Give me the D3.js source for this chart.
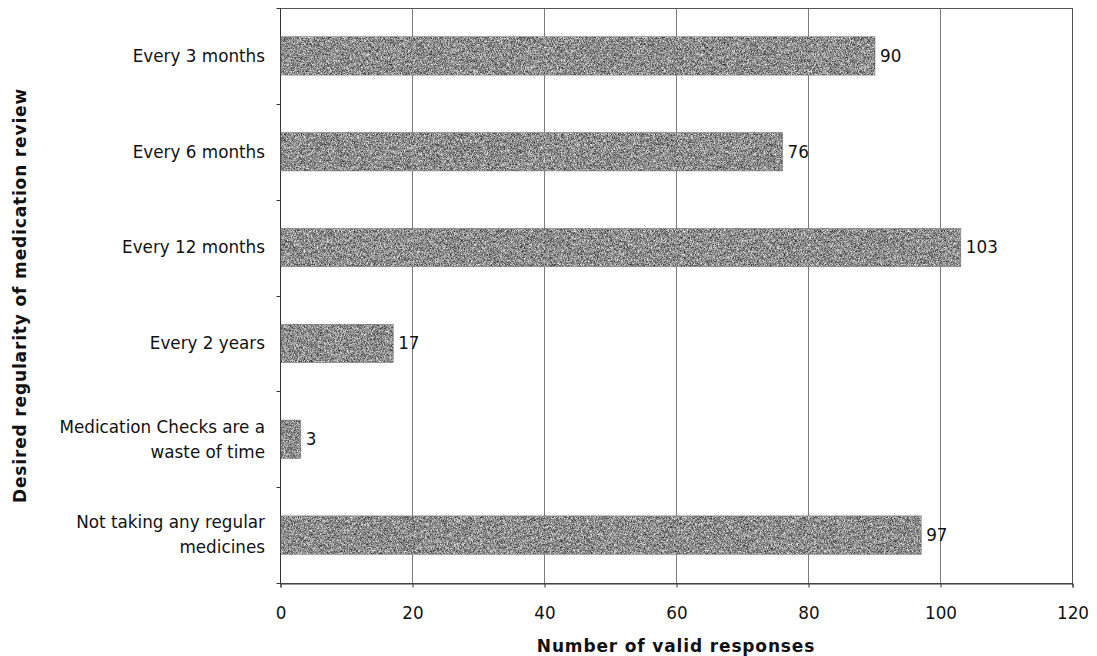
<!DOCTYPE html>
<html>
<head>
<meta charset="utf-8">
<script src="https://cdn.jsdelivr.net/npm/d3@7"></script>
<style>
  html, body { margin: 0; padding: 0; background: #fff; }
  svg { display: block; }
  text { font-family: "DejaVu Sans", Verdana, sans-serif; fill: #111; }
</style>
</head>
<body>
<svg id="chart" width="1097" height="656"></svg>
<script>
// Survey responses: desired regularity of medication review
const categories = [
  ["Every 3 months"],
  ["Every 6 months"],
  ["Every 12 months"],
  ["Every 2 years"],
  ["Medication Checks are a", "waste of time"],
  ["Not taking any regular", "medicines"]
];
const responses = [90, 76, 103, 17, 3, 97];
const xTicks = [0, 20, 40, 60, 80, 100, 120];
const xTitle = "Number of valid responses";
const yTitle = "Desired regularity of medication review";

const svg = d3.select("#chart");
const plot = { left: 280, top: 8, right: 1072, bottom: 583 };
const labelSize = "16.8px";

// Grainy grey fill for the bars
const defs = svg.append("defs");
const f = defs.append("filter").attr("id", "grain")
  .attr("x", 0).attr("y", 0).attr("width", 1).attr("height", 1)
  .attr("filterUnits", "objectBoundingBox")
  .attr("color-interpolation-filters", "sRGB");
f.append("feTurbulence").attr("type", "fractalNoise")
  .attr("baseFrequency", 2.3).attr("numOctaves", 1).attr("seed", 11).attr("result", "noise");
f.append("feColorMatrix").attr("in", "noise").attr("type", "matrix")
  .attr("values", "1.35 0 0 0 -0.12  1.35 0 0 0 -0.12  1.35 0 0 0 -0.12  0 0 0 0 1")
  .attr("result", "grey");
f.append("feComposite").attr("in", "grey").attr("in2", "SourceGraphic").attr("operator", "in");

const keys = d3.range(categories.length);
const x = d3.scaleLinear().domain([0, 120]).range([plot.left, plot.right]);
const y = d3.scaleBand().domain(keys).range([plot.top, plot.bottom])
  .paddingInner(0.6).paddingOuter(0.3);
const yb = d3.scaleBand().domain(keys).range([plot.top, plot.bottom]);

// Vertical gridlines
svg.append("g").selectAll("line").data(xTicks.slice(1, -1)).join("line")
  .attr("x1", d => x(d) + 0.5).attr("x2", d => x(d) + 0.5)
  .attr("y1", plot.top).attr("y2", plot.bottom)
  .attr("stroke", "#7a7a7a").attr("stroke-width", 1);

// Plot frame
svg.append("rect")
  .attr("x", plot.left + 0.5).attr("y", plot.top + 0.5)
  .attr("width", plot.right - plot.left).attr("height", plot.bottom - plot.top)
  .attr("fill", "none").attr("stroke", "#555").attr("stroke-width", 1);

// X axis
const xAxis = svg.append("g")
  .attr("transform", `translate(0.5,${plot.bottom + 0.5})`)
  .call(d3.axisBottom(x).tickValues(xTicks).tickSize(4).tickPadding(20));
xAxis.select(".domain").attr("stroke", "#333");
xAxis.selectAll(".tick line").attr("stroke", "#333");
xAxis.selectAll(".tick text")
  .style("font-family", "'DejaVu Sans', Verdana, sans-serif")
  .style("font-size", labelSize).attr("fill", "#111");

// Y axis: ticks at category boundaries, labels drawn separately
const yAxis = svg.append("g").attr("transform", `translate(${plot.left + 0.5},0.5)`);
yAxis.append("line").attr("y1", plot.top).attr("y2", plot.bottom).attr("stroke", "#333");
yAxis.selectAll("line.tk").data(d3.range(categories.length + 1)).join("line")
  .attr("class", "tk")
  .attr("x1", -4).attr("x2", 0)
  .attr("y1", d => Math.round(plot.top + d * yb.step()))
  .attr("y2", d => Math.round(plot.top + d * yb.step()))
  .attr("stroke", "#333");

const lineH = 25;
svg.append("g").selectAll("text").data(keys).join("text")
  .attr("text-anchor", "end")
  .attr("x", plot.left - 15)
  .attr("y", i => y(i) + y.bandwidth() / 2 - (categories[i].length - 1) * lineH / 2)
  .style("font-size", labelSize)
  .each(function (i) {
    d3.select(this).selectAll("tspan").data(categories[i]).join("tspan")
      .attr("x", plot.left - 15)
      .attr("dy", (d, j) => j === 0 ? "0.35em" : lineH)
      .text(d => d);
  });

// Bars
svg.append("g").selectAll("rect").data(keys).join("rect")
  .attr("x", x(0) + 1)
  .attr("y", i => y(i))
  .attr("width", i => x(responses[i]) - x(0))
  .attr("height", y.bandwidth())
  .attr("fill", "#888")
  .attr("filter", "url(#grain)");
svg.append("g").selectAll("rect").data(keys).join("rect")
  .attr("x", x(0) + 1)
  .attr("y", i => y(i))
  .attr("width", i => x(responses[i]) - x(0))
  .attr("height", y.bandwidth())
  .attr("fill", "none").attr("stroke", "#777").attr("stroke-width", 0.6);

// Value labels
svg.append("g").selectAll("text").data(keys).join("text")
  .attr("x", i => x(responses[i]) + 6)
  .attr("y", i => y(i) + y.bandwidth() / 2)
  .attr("dy", "0.35em")
  .style("font-size", labelSize)
  .text(i => responses[i]);

// Axis titles
svg.append("text")
  .attr("x", (plot.left + plot.right) / 2).attr("y", 652)
  .attr("text-anchor", "middle")
  .style("font-size", "17px").style("font-weight", "bold").style("letter-spacing", "0.85px")
  .text(xTitle);
svg.append("text")
  .attr("transform", `translate(26,${(plot.top + plot.bottom) / 2}) rotate(-90)`)
  .attr("text-anchor", "middle")
  .style("font-size", "17px").style("font-weight", "bold").style("letter-spacing", "0.85px")
  .text(yTitle);
</script>
</body>
</html>
